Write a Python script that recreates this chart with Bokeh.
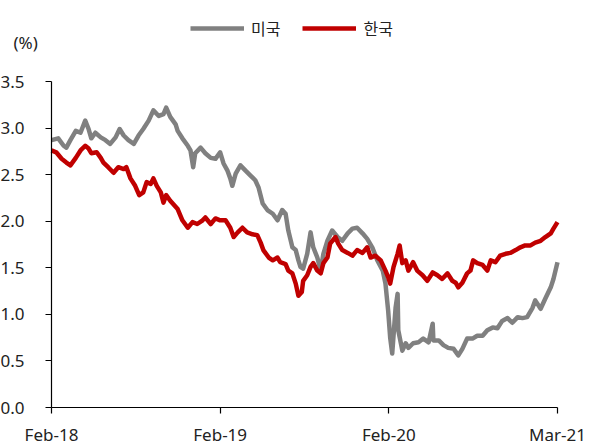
from bokeh.plotting import figure
from bokeh.models import ColumnDataSource, FixedTicker, Legend, LegendItem, Label
from bokeh.embed import file_html
from bokeh.resources import INLINE

# Trading-day index from the first observation (Feb-18) and 10Y yields, %
us_day = [0, 10, 18, 22, 28, 36, 43, 50, 55, 59, 65, 73, 80, 87, 95, 101, 107, 114, 122, 129,
          136, 144, 151, 159, 166, 170, 176, 184, 187, 194, 202, 206, 210, 213, 221, 228, 236,
          243, 250, 255, 261, 265, 268, 273, 280, 288, 295, 302, 307, 313, 320, 328, 335, 342,
          347, 351, 357, 362, 366, 369, 373, 379, 384, 388, 394, 399, 403, 409, 416, 424, 431,
          439, 446, 453, 461, 468, 476, 483, 491, 495, 499, 502, 505, 510, 513, 514, 520, 525,
          529, 536, 544, 551, 559, 565, 566, 574, 581, 588, 596, 603, 609, 616, 624, 631, 639,
          646, 654, 661, 668, 676, 683, 691, 698, 705, 713, 717, 725, 732, 740, 744, 750]
us_yield = [2.87, 2.89, 2.81, 2.79, 2.87, 2.97, 2.95, 3.08, 2.99, 2.89, 2.95, 2.90, 2.87, 2.83,
            2.90, 2.99, 2.92, 2.87, 2.83, 2.92, 2.99, 3.08, 3.19, 3.13, 3.15, 3.22, 3.12, 3.04,
            2.97, 2.89, 2.81, 2.76, 2.58, 2.73, 2.79, 2.73, 2.68, 2.67, 2.74, 2.62, 2.54, 2.46,
            2.38, 2.51, 2.60, 2.54, 2.49, 2.44, 2.36, 2.19, 2.12, 2.08, 2.01, 2.12, 2.08, 1.90,
            1.72, 1.69, 1.58, 1.51, 1.49, 1.65, 1.88, 1.72, 1.61, 1.47, 1.65, 1.79, 1.90, 1.83,
            1.79, 1.87, 1.92, 1.93, 1.87, 1.81, 1.71, 1.58, 1.47, 1.33, 1.04, 0.75, 0.58, 1.07,
            1.22, 0.83, 0.61, 0.69, 0.64, 0.69, 0.70, 0.74, 0.70, 0.90, 0.72, 0.72, 0.67, 0.64,
            0.63, 0.56, 0.63, 0.74, 0.74, 0.77, 0.77, 0.83, 0.86, 0.85, 0.93, 0.96, 0.91, 0.97,
            0.96, 0.97, 1.07, 1.15, 1.06, 1.17, 1.29, 1.38, 1.56]

kr_day = [0, 7, 15, 22, 28, 36, 43, 50, 55, 59, 67, 73, 77, 84, 92, 99, 107, 111, 117, 124,
          130, 136, 141, 147, 151, 156, 162, 166, 170, 176, 187, 194, 202, 209, 216, 224, 228,
          236, 243, 250, 258, 265, 270, 276, 283, 290, 298, 305, 310, 314, 322, 328, 335, 339,
          347, 351, 357, 362, 366, 371, 373, 379, 384, 388, 394, 399, 403, 409, 413, 421, 425,
          431, 439, 446, 453, 461, 468, 473, 480, 488, 495, 499, 502, 507, 513, 516, 520, 525,
          529, 536, 542, 550, 557, 565, 572, 579, 587, 594, 599, 603, 609, 616, 621, 625, 631,
          639, 646, 651, 658, 665, 673, 680, 688, 695, 702, 710, 717, 725, 732, 740, 744, 750]
kr_yield = [2.76, 2.74, 2.67, 2.63, 2.60, 2.68, 2.76, 2.81, 2.78, 2.73, 2.74, 2.68, 2.63, 2.58,
            2.52, 2.58, 2.56, 2.58, 2.46, 2.38, 2.28, 2.31, 2.42, 2.40, 2.46, 2.38, 2.31, 2.20,
            2.28, 2.22, 2.13, 2.01, 1.93, 1.99, 1.97, 2.01, 2.04, 1.97, 2.03, 2.01, 2.01, 1.93,
            1.83, 1.88, 1.93, 1.88, 1.86, 1.85, 1.77, 1.69, 1.61, 1.58, 1.61, 1.56, 1.54, 1.47,
            1.44, 1.33, 1.20, 1.24, 1.36, 1.42, 1.51, 1.55, 1.47, 1.44, 1.55, 1.61, 1.76, 1.83,
            1.76, 1.69, 1.66, 1.63, 1.69, 1.66, 1.72, 1.61, 1.63, 1.58, 1.47, 1.40, 1.33, 1.51,
            1.65, 1.74, 1.55, 1.58, 1.47, 1.56, 1.47, 1.42, 1.36, 1.45, 1.42, 1.38, 1.44, 1.36,
            1.34, 1.29, 1.34, 1.44, 1.47, 1.58, 1.55, 1.53, 1.47, 1.58, 1.56, 1.63, 1.65, 1.66,
            1.69, 1.72, 1.74, 1.74, 1.77, 1.79, 1.83, 1.87, 1.92, 1.99]

tick_days = [0, 250, 500, 750]
tick_labels = ["Feb-18", "Feb-19", "Feb-20", "Mar-21"]
y_ticks = [0.0, 0.5, 1.0, 1.5, 2.0, 2.5, 3.0, 3.5]

TICK_FONT = "Noto Sans"
KR_FONT = "Noto Sans CJK KR"

W, H = 599, 446
# data area inside the canvas (pixels from the left / top edge)
LEFT, RIGHT, TOP, BOTTOM = 51, 557, 81, 407
X0, X1 = tick_days[0], tick_days[-1]
Y0, Y1 = y_ticks[0], y_ticks[-1]
px_x = (RIGHT - LEFT) / (X1 - X0)
px_y = (BOTTOM - TOP) / (Y1 - Y0)

# the frame spans the whole canvas; the axes sit at fixed data positions inside it
p = figure(width=W, height=H, output_backend="svg", toolbar_location=None,
           x_range=(X0 - LEFT / px_x, X1 + (W - RIGHT) / px_x),
           y_range=(Y0 - (H - BOTTOM) / px_y, Y1 + TOP / px_y),
           min_border=0)
p.outline_line_color = None
p.xgrid.visible = False
p.ygrid.visible = False
p.background_fill_color = "white"
p.border_fill_color = "white"

us_src = ColumnDataSource(dict(x=us_day, y=us_yield))
kr_src = ColumnDataSource(dict(x=kr_day, y=kr_yield))
r_us = p.line("x", "y", source=us_src, line_color="#808080", line_width=4.5, line_join="round")
r_kr = p.line("x", "y", source=kr_src, line_color="#C00000", line_width=4.5, line_join="round")

for ax in (p.xaxis[0], p.yaxis[0]):
    ax.axis_line_color = "black"
    ax.axis_line_width = 1.2
    ax.major_tick_line_color = "black"
    ax.major_tick_line_width = 1.2
    ax.major_tick_in = 0
    ax.major_tick_out = 6
    ax.minor_tick_line_color = None
    ax.major_label_text_font = TICK_FONT
    ax.major_label_text_font_size = "17px"
    ax.major_label_text_color = "#222222"

p.xaxis.fixed_location = Y0
p.xaxis.bounds = (X0, X1)
p.xaxis.ticker = FixedTicker(ticks=tick_days)
p.xaxis.major_label_overrides = {d: lab for d, lab in zip(tick_days, tick_labels)}
p.xaxis.major_label_standoff = 9

p.yaxis.fixed_location = X0
p.yaxis.bounds = (Y0, Y1)
p.yaxis.ticker = FixedTicker(ticks=y_ticks)
p.yaxis.major_label_overrides = {v: f"{v:.1f}" for v in y_ticks}
p.yaxis.major_label_standoff = 21

# unit label, top left
p.add_layout(Label(x=13, y=H - 53, x_units="screen", y_units="screen", text="(%)",
                   text_font=TICK_FONT, text_font_size="17px", text_color="#222222"))

legend = Legend(items=[LegendItem(label="미국", renderers=[r_us]),
                       LegendItem(label="한국", renderers=[r_kr])],
                orientation="horizontal", location=(190, H - 40),
                label_text_font=KR_FONT, label_text_font_size="16px",
                label_text_color="#222222",
                glyph_width=54, glyph_height=20, label_standoff=7, spacing=22,
                padding=0, margin=0, border_line_color=None, background_fill_alpha=0)
p.add_layout(legend, "center")

open("out.html", "w").write(file_html(p, INLINE))
